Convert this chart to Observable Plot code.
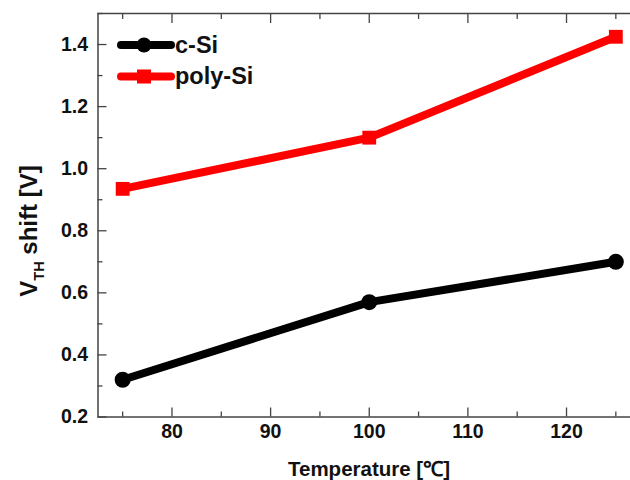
<!DOCTYPE html>
<html>
<head>
<meta charset="utf-8">
<script src="https://cdn.jsdelivr.net/npm/d3@7"></script>
<script src="https://cdn.jsdelivr.net/npm/@observablehq/plot@0.6"></script>
<style>
  html, body { margin: 0; padding: 0; background: #fff; overflow: hidden; }
  #chart { position: relative; width: 630px; height: 480px; overflow: hidden; }
  #chart svg { font-family: "Liberation Sans", Arial, sans-serif; }
</style>
</head>
<body>
<div id="chart"></div>
<script>
const temperatures = [75, 100, 125];
const cSi = [0.32, 0.57, 0.70];
const polySi = [0.935, 1.10, 1.425];
const seriesNames = ["c-Si", "poly-Si"];
const seriesColors = ["#000000", "#ff0000"];
const xMajorTicks = [80, 90, 100, 110, 120];
const xMinorTicks = [75, 85, 95, 105, 115, 125];
const yMajorTicks = [0.2, 0.4, 0.6, 0.8, 1.0, 1.2, 1.4];
const yMinorTicks = [0.3, 0.5, 0.7, 0.9, 1.1, 1.3, 1.5];

const rows = [];
temperatures.forEach((t, i) => {
  rows.push({series: seriesNames[0], x: t, y: cSi[i]});
  rows.push({series: seriesNames[1], x: t, y: polySi[i]});
});
const cRows = rows.filter(d => d.series === "c-Si");
const pRows = rows.filter(d => d.series === "poly-Si");

const axisColor = "#444";
const plot = Plot.plot({
  width: 630,
  height: 480,
  marginLeft: 97.5,
  marginRight: -10,
  marginTop: 13,
  marginBottom: 63.5,
  style: {fontFamily: "Liberation Sans, Arial, sans-serif", color: "#1a1a1a", background: "#fff"},
  x: {domain: [72.5, 127.5]},
  y: {domain: [0.2, 1.5]},
  marks: [
    Plot.frame({stroke: axisColor, strokeWidth: 1.5}),
    Plot.axisX(xMajorTicks, {anchor: "bottom", tickSize: -9, tickPadding: 16, label: null, stroke: axisColor, strokeWidth: 1.3, tickFormat: d => String(d)}),
    Plot.axisX(xMinorTicks, {anchor: "bottom", tickSize: -5, text: null, label: null, stroke: axisColor, strokeWidth: 1.3}),
    Plot.axisX(xMajorTicks, {anchor: "top", tickSize: -9, text: null, label: null, stroke: axisColor, strokeWidth: 1.3}),
    Plot.axisX(xMinorTicks, {anchor: "top", tickSize: -5, text: null, label: null, stroke: axisColor, strokeWidth: 1.3}),
    Plot.axisY(yMajorTicks, {anchor: "left", tickSize: -9, tickPadding: 19, label: null, stroke: axisColor, strokeWidth: 1.3, tickFormat: d => d.toFixed(1)}),
    Plot.axisY(yMinorTicks, {anchor: "left", tickSize: -5, text: null, label: null, stroke: axisColor, strokeWidth: 1.3}),
    Plot.line(cRows, {x: "x", y: "y", stroke: seriesColors[0], strokeWidth: 8}),
    Plot.line(pRows, {x: "x", y: "y", stroke: seriesColors[1], strokeWidth: 8}),
    Plot.dot(cRows, {x: "x", y: "y", r: 8, fill: seriesColors[0], stroke: "none"}),
    Plot.dot(pRows, {x: "x", y: "y", r: 7.8, symbol: "square", fill: seriesColors[1], stroke: "none"})
  ]
});
document.getElementById("chart").appendChild(plot);

const svg = d3.select(plot);
// Tick labels: bold, larger
svg.selectAll("text")
  .style("font-size", "19.5px")
  .style("font-weight", "bold")
  .style("fill", "#111");

// Y axis label with subscript
const yl = svg.append("text")
  .attr("transform", "translate(37,231) rotate(-90)")
  .style("text-anchor", "middle")
  .style("font-size", "24px")
  .style("font-weight", "bold")
  .style("fill", "#111");
yl.append("tspan").text("V");
yl.append("tspan").style("font-size", "14.5px").attr("dy", 7).text("TH");
yl.append("tspan").attr("dy", -7).text(" shift [V]");

// X axis label
svg.append("text")
  .attr("x", 369).attr("y", 476)
  .style("text-anchor", "middle")
  .style("font-size", "20.5px")
  .style("font-weight", "bold")
  .style("fill", "#111")
  .text("Temperature [℃]");

// Legend
const lg = svg.append("g");
seriesNames.forEach((name, i) => {
  const y = 45 + i * 31.5;
  lg.append("line").attr("x1", 121).attr("x2", 171).attr("y1", y).attr("y2", y)
    .attr("stroke", seriesColors[i]).attr("stroke-width", 8).attr("stroke-linecap", "round");
  if (i === 0) {
    lg.append("circle").attr("cx", 144).attr("cy", y).attr("r", 7.5).attr("fill", seriesColors[i]);
  } else {
    lg.append("rect").attr("x", 137).attr("y", y - 7).attr("width", 14).attr("height", 14).attr("fill", seriesColors[i]);
  }
  lg.append("text").attr("x", 175).attr("y", y + 7.5)
    .style("text-anchor", "start")
    .style("font-size", "23.5px")
    .style("font-weight", "bold")
    .style("fill", "#111")
    .text(name);
});
</script>
</body>
</html>
